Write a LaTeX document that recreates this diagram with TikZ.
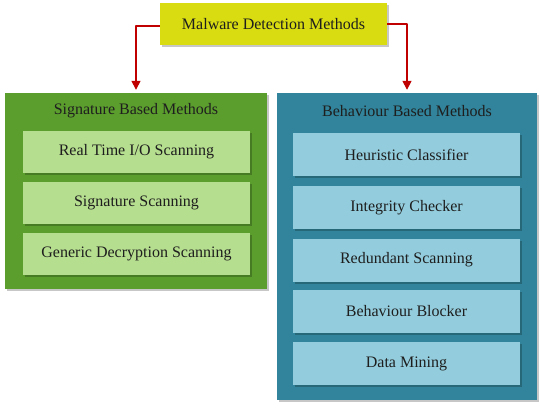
\documentclass[tikz,border=0pt]{standalone}
\usepackage{fontspec}
\setmainfont{Liberation Serif}
\usepackage{tikz}
\usetikzlibrary{arrows.meta,shadows}
\definecolor{mdYellow}{HTML}{D8DC10}
\definecolor{mdGreen}{HTML}{5C9E2E}
\definecolor{mdGreenLight}{HTML}{B6DE8F}
\definecolor{mdBlue}{HTML}{31849B}
\definecolor{mdBlueLight}{HTML}{93CDDD}
\definecolor{mdInk}{HTML}{1E1E1E}
\definecolor{mdRed}{HTML}{C00000}
\tikzset{
  md diagram/.style={font=\fontsize{16}{18}\selectfont, text=mdInk,
    line join=round},
  md shadow/.style={drop shadow={shadow xshift=2pt, shadow yshift=-2pt,
    fill=black, opacity=0.22}},
  md root/.style={md shadow, fill=mdYellow, draw=none, minimum width=227pt,
    minimum height=42pt, inner sep=0pt},
  md group/.style={md shadow, draw=none, inner sep=0pt},
  md title/.style={inner sep=0pt},
  md item/.style={md shadow, draw=none, minimum width=227pt,
    minimum height=42pt, inner sep=0pt},
  md sig item/.style={md item, fill=mdGreenLight},
  md beh item/.style={md item, fill=mdBlueLight, minimum height=43pt},
  md arrow/.style={-{Triangle[length=9pt,width=9pt]}, draw=mdRed,
    line width=1.5pt}
}
\begin{document}
\begin{tikzpicture}[md diagram, x=1pt, y=-1pt]
\useasboundingbox[fill=white] (0,0) rectangle (540,412);
% root
\node[md root] (root) at (273.5,24) {Malware Detection Methods};
% signature based
\node[md group, fill=mdGreen, minimum width=262pt, minimum height=196pt]
  (sig) at (136,191) {};
\node[md title] (sigtitle) at (136,111) {Signature Based Methods};
\node[md sig item] (sig1) at (136.5,152) {Real Time I/O Scanning};
\node[md sig item] (sig2) at (136.5,202.5) {Signature Scanning};
\node[md sig item] (sig3) at (136.5,253.5) {Generic Decryption Scanning};
% behaviour based
\node[md group, fill=mdBlue, minimum width=260pt, minimum height=307pt]
  (beh) at (407,246.5) {};
\node[md title] (behtitle) at (407,111) {Behaviour Based Methods};
\node[md beh item] (beh1) at (406.5,154.5) {Heuristic Classifier};
\node[md beh item] (beh2) at (406.5,207.5) {Integrity Checker};
\node[md beh item] (beh3) at (406.5,260) {Redundant Scanning};
\node[md beh item] (beh4) at (406.5,311.5) {Behaviour Blocker};
\node[md beh item] (beh5) at (406.5,363.5) {Data Mining};
% connectors
\draw[md arrow, shorten >=3pt] ([yshift=-2pt]root.west) -| (sig.north);
\draw[md arrow, shorten >=3pt] (root.east) -| (beh.north);
\end{tikzpicture}
\end{document}
